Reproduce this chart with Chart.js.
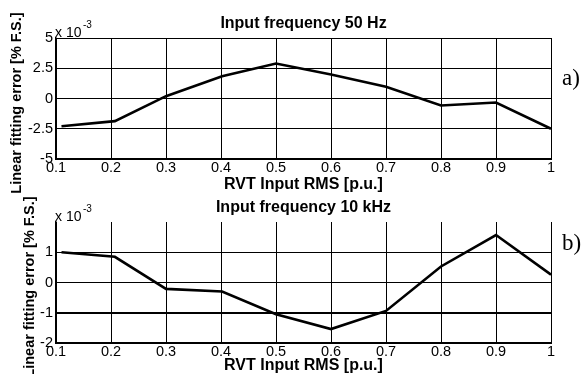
<!DOCTYPE html>
<html>
<head>
<meta charset="utf-8">
<script src="https://cdn.jsdelivr.net/npm/chart.js@4.4.1/dist/chart.umd.min.js"></script>
<style>
  html, body { margin: 0; padding: 0; background: #fff; }
  #wrap { position: relative; width: 584px; height: 374px; background: #fff; }
  canvas { position: absolute; left: 0; top: 0; }
</style>
</head>
<body>
<div id="wrap">
  <canvas id="c1" width="584" height="374"></canvas>
  <canvas id="c2" width="584" height="374"></canvas>
</div>
<script>
// ---- data ----
const xValues = [0.11, 0.207, 0.3, 0.402, 0.5, 0.6, 0.7, 0.8, 0.9, 1.0];
const err50Hz = [-2.29, -1.87, 0.19, 1.84, 2.89, 1.98, 0.97, -0.58, -0.33, -2.5];
const err10kHz = [1.0, 0.85, -0.21, -0.30, -1.05, -1.54, -0.94, 0.53, 1.57, 0.26];
const xTickLabels = ['0.1', '0.2', '0.3', '0.4', '0.5', '0.6', '0.7', '0.8', '0.9', '1'];
const yTickValuesA = [-5, -2.5, 0, 2.5, 5];
const yTickLabelsA = ['-5', '-2.5', '0', '2.5', '5'];
const yTickValuesB = [-2, -1, 0, 1];
const yTickLabelsB = ['-2', '-1', '0', '1'];
const titleA = 'Input frequency 50 Hz';
const titleB = 'Input frequency 10 kHz';
const xTitle = 'RVT Input RMS [p.u.]';
const yTitle = 'Linear fitting error [% F.S.]';
const exponentBase = 'x 10';
const exponentPow = '-3';
const panelA = 'a)';
const panelB = 'b)';

const SANS = '"Liberation Sans", Arial, sans-serif';
const SERIF = '"Liberation Serif", "Times New Roman", serif';
Chart.defaults.color = '#000';
Chart.defaults.font.family = SANS;

function pts(ys) { return xValues.map((x, i) => ({ x: x, y: ys[i] })); }

const decorPlugin = {
  id: 'decor',
  afterDraw(chart, args, opts) {
    const ctx = chart.ctx;
    const a = chart.chartArea;
    ctx.save();
    ctx.fillStyle = '#000';
    // y-axis title
    ctx.save();
    ctx.translate(opts.yTitleX, (a.top + a.bottom) / 2 + 4.5);
    ctx.rotate(-Math.PI / 2);
    ctx.font = 'bold 14.5px ' + SANS;
    ctx.textAlign = 'center';
    ctx.textBaseline = 'middle';
    ctx.fillText(yTitle, 0, 0);
    ctx.restore();
    // exponent label
    ctx.font = '14px ' + SANS;
    ctx.textAlign = 'left';
    ctx.textBaseline = 'alphabetic';
    ctx.fillText(exponentBase, a.left - 1, a.top - 1.5);
    const w = ctx.measureText(exponentBase).width;
    ctx.font = '10px ' + SANS;
    ctx.fillText(exponentPow, a.left - 1 + w + 1.5, a.top - 10.5);
    // panel letter
    ctx.font = '23px ' + SERIF;
    ctx.fillText(opts.panel, 562, opts.panelY);
    ctx.restore();
  }
};

function makeChart(id, cfg) {
  const yVals = cfg.yTickValues, yLabs = cfg.yTickLabels;
  return new Chart(document.getElementById(id), {
    type: 'line',
    data: {
      datasets: [{
        data: pts(cfg.values),
        borderColor: '#000',
        borderWidth: 2.6,
        pointRadius: 0,
        tension: 0,
        fill: false
      }]
    },
    options: {
      responsive: false,
      animation: false,
      events: [],
      layout: { padding: cfg.padding },
      plugins: {
        legend: { display: false },
        tooltip: { enabled: false },
        title: {
          display: true,
          fullSize: false,
          text: cfg.title,
          color: '#000',
          font: { family: SANS, size: 16, weight: 'bold', lineHeight: 1.2 },
          padding: cfg.titlePadding
        },
        decor: { yTitleX: cfg.yTitleX, panel: cfg.panel, panelY: cfg.panelY }
      },
      scales: {
        x: {
          type: 'linear',
          min: 0.1,
          max: 1,
          offset: false,
          grid: { color: '#000', lineWidth: 1, drawTicks: false },
          border: { display: true, color: '#000', width: 2 },
          ticks: {
            stepSize: 0.1,
            padding: 0,
            color: '#000',
            font: { family: SANS, size: 14.5, lineHeight: 1.2 },
            maxRotation: 0,
            autoSkip: false,
            callback: (v, i) => xTickLabels[i]
          },
          title: {
            display: true,
            text: xTitle,
            color: '#000',
            font: { family: SANS, size: 16, weight: 'bold', lineHeight: 1 },
            padding: { top: 0, bottom: 0 }
          },
          afterFit: (s) => { s.height = cfg.xHeight; }
        },
        y: {
          type: 'linear',
          min: yVals[0],
          max: cfg.yMax,
          grid: {
            color: '#000',
            lineWidth: (c) => (c.tick && c.tick.value === -1 && cfg.thickMinusOne) ? 2 : 1,
            drawTicks: false
          },
          border: { display: true, color: '#000', width: 1.5 },
          ticks: {
            stepSize: cfg.yStep,
            padding: 3,
            color: '#000',
            font: { family: SANS, size: 14.5, lineHeight: 1.2 },
            autoSkip: false,
            callback: (v) => {
              const k = yVals.findIndex(t => Math.abs(t - v) < 1e-9);
              return k >= 0 ? yLabs[k] : '';
            }
          },
          afterBuildTicks: (s) => {
            s.ticks = s.ticks.filter(t => yVals.some(v => Math.abs(v - t.value) < 1e-9));
          },
          afterFit: (s) => { s.width = 56; }
        }
      }
    },
    plugins: [decorPlugin]
  });
}

makeChart('c1', {
  values: err50Hz,
  title: titleA,
  padding: { top: 0, left: 0, right: 33, bottom: 181 },
  titlePadding: { top: 13.6, bottom: 5.2 },
  xHeight: 34,
  yTickValues: yTickValuesA,
  yTickLabels: yTickLabelsA,
  yMax: 5,
  yStep: 2.5,
  yTitleX: 17,
  panel: panelA,
  panelY: 85,
  thickMinusOne: false
});

makeChart('c2', {
  values: err10kHz,
  title: titleB,
  padding: { top: 190, left: 0, right: 33, bottom: 0 },
  titlePadding: { top: 8.2, bottom: 4.6 },
  xHeight: 31,
  yTickValues: yTickValuesB,
  yTickLabels: yTickLabelsB,
  yMax: 2,
  yStep: 1,
  yTitleX: 30,
  panel: panelB,
  panelY: 250,
  thickMinusOne: true
});
</script>
</body>
</html>
